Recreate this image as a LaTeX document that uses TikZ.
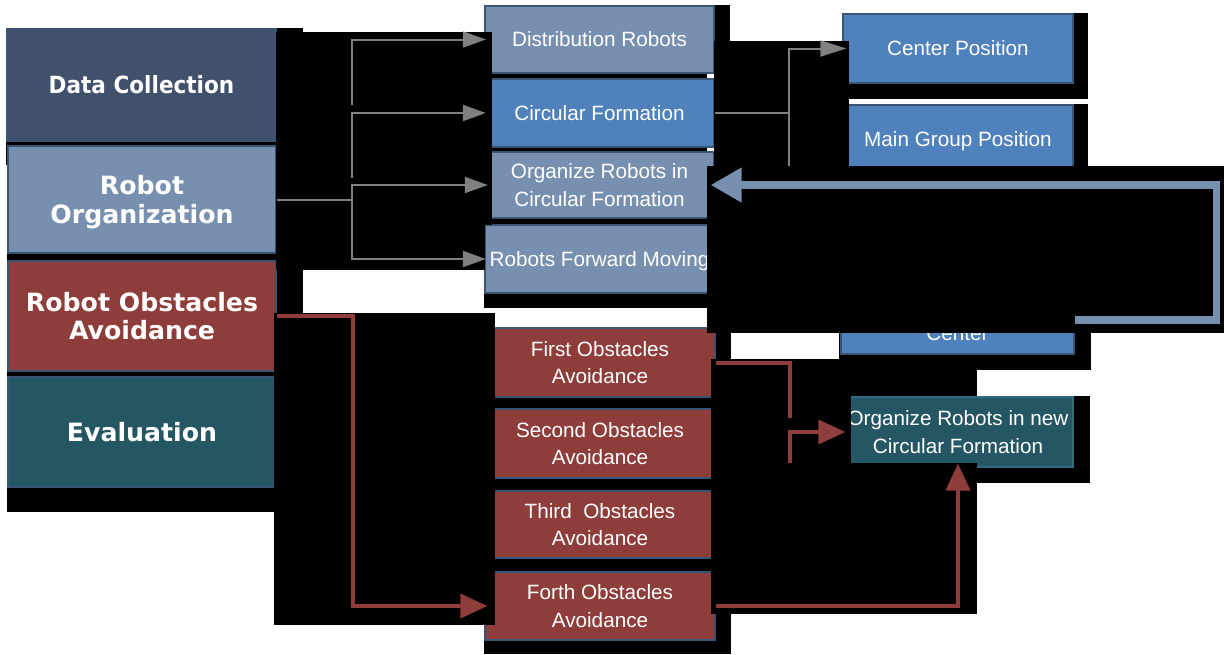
\documentclass[tikz,border=0pt]{standalone}
\usepackage{fontspec}
\usepackage{graphicx}
\newfontfamily\arialf{Liberation Sans}
\newfontfamily\verdf{DejaVu Sans}
\usetikzlibrary{arrows.meta}
\definecolor{cdark}{HTML}{41506B}
\definecolor{clight}{HTML}{7790B0}
\definecolor{cred}{HTML}{8F3D3A}
\definecolor{cteal}{HTML}{255663}
\definecolor{ctealb}{HTML}{2F6E7E}
\definecolor{cblue}{HTML}{4F81BD}
\definecolor{cbord}{HTML}{3A5475}
\definecolor{cgrey}{HTML}{808080}
\definecolor{credline}{HTML}{8F3D3A}
\begin{document}
\begin{tikzpicture}[x=1pt,y=-1pt,
  blk/.style={fill=black},
  bx/.style={rectangle, draw=cbord, line width=1.3pt, inner sep=0pt, text=white, align=center,
    font=\arialf\fontsize{20.7}{27.5}\selectfont},
  lbx/.style={bx, font=\verdf\bfseries\fontsize{25.2}{28.5}\selectfont},
  nodepth/.style={text depth=0pt},
  gline/.style={draw=cgrey, line width=2pt},
  garrow/.style={gline, -{Triangle[length=23pt,width=16pt]}},
  garrowb/.style={gline, -{Triangle[length=26pt,width=16pt]}},
  rline/.style={draw=credline, line width=4pt},
  rarrow/.style={rline, -{Triangle[length=27pt,width=24pt]}},
  barrow/.style={draw=clight, line width=7.5pt, -{Triangle[length=31pt,width=33pt]}}
]
\useasboundingbox (0,0) rectangle (1224,654);
\fill[white] (0,0) rectangle (1224,654);

% black areas behind the boxes
\fill[blk] (6,28) rectangle (303,165);
\fill[blk] (7,165) rectangle (276,512);
\fill[blk] (276,165) rectangle (303,313);
\fill[blk] (484,5) rectangle (730,41);
\fill[blk] (484,41) rectangle (707,308);
\fill[blk] (843,13) rectangle (1088,99);
\fill[blk] (848,104) rectangle (1088,166);
\fill[blk] (839,330) rectangle (1091,370);
\fill[blk] (843,396) rectangle (1090,483);
\fill[blk] (484,327) rectangle (731,654);

% left column
\node[lbx, fill=cdark, minimum width=269pt, minimum height=112pt] (dc) at (141.5,85)
  {\fontsize{23.7}{28.5}\selectfont\scalebox{0.91}[1]{Data Collection}};
\node[lbx, nodepth, fill=clight, minimum width=268pt, minimum height=107pt] (ro) at (142,199.5) {Robot\\Organization};
\node[lbx, fill=cred, minimum width=268pt, minimum height=110pt] (roa) at (142,316) {Robot Obstacles\\Avoidance};
\node[lbx, fill=cteal, minimum width=268pt, minimum height=110pt] (ev) at (142,432) {Evaluation};

% middle column
\node[bx, fill=clight, minimum width=229pt, minimum height=67pt] (dist) at (599.5,39.5) {Distribution Robots};
\node[bx, fill=cblue, minimum width=229pt, minimum height=68pt] (circ) at (599.5,113) {Circular Formation};
\node[bx, fill=clight, minimum width=229pt, minimum height=66pt] (org) at (599.5,185) {Organize Robots in\\Circular Formation};
\node[bx, nodepth, fill=clight, minimum width=229pt, minimum height=68pt] (fwd) at (599.5,259) {Robots Forward Moving};
\node[bx, fill=cred, minimum width=230pt, minimum height=69pt] (first) at (600,362.5) {First Obstacles\\Avoidance};
\node[bx, fill=cred, minimum width=230pt, minimum height=69pt] (second) at (600,443.5) {Second Obstacles\\Avoidance};
\node[bx, fill=cred, minimum width=230pt, minimum height=67pt] (third) at (600,524.5) {Third\ \ Obstacles\\Avoidance};
\node[bx, fill=cred, minimum width=230pt, minimum height=68pt] (forth) at (600,606) {Forth Obstacles\\Avoidance};

% right column
\node[bx, fill=cblue, minimum width=230pt, minimum height=69pt] (cpos) at (958,48.5) {Center Position};
\node[bx, nodepth, fill=cblue, minimum width=230pt, minimum height=68pt] (mgp) at (958,139) {Main Group Position};
\node[bx, fill=cblue, minimum width=233pt, minimum height=68pt] (cbox) at (957.5,320) {};
\node[text=white, inner sep=0pt, font=\arialf\fontsize{20.7}{27.5}\selectfont] (ctext) at (957.5,333) {Center};

% black areas over the boxes
\fill[blk] (276,32) rectangle (492,225);
\fill[blk] (276,225) rectangle (485,270);
\fill[blk] (714,41) rectangle (849,166);
\fill[blk] (274,313) rectangle (495,625);
\fill[blk] (711,359) rectangle (977,614);
\fill[blk] (707,166) rectangle (1224,333);

% teal target box
\node[bx, draw=ctealb, fill=cteal, minimum width=230pt, minimum height=70pt] (teal) at (958,432)
  {Organize Robots in new\\Circular Formation};
\fill[blk] (842,396) rectangle (851,468);
\fill[blk] (842,463) rectangle (977,469);

% grey connectors
\coordinate (g1) at (352,105);
\coordinate (g2) at (352,178);
\coordinate (gj) at (352,199.5);
\coordinate (cj) at (789,113);
\coordinate (cv) at (789,166);
\draw[garrow] (g1) |- ([xshift=1.5pt]dist.west);
\draw[garrow] (g2) |- ([xshift=1.5pt]circ.west);
\draw[gline] (ro.east) -- (gj);
\draw[garrow] (gj) |- ([xshift=3.5pt]org.west);
\draw[garrow] (gj) |- ([xshift=1.5pt]fwd.west);
\draw[gline] (circ.east) -- (cj) -- (cv);
\draw[garrowb] (cj) |- ([xshift=4pt]cpos.west);

% red connectors
\coordinate (r1) at (353,316);
\coordinate (r2) at (790,418);
\coordinate (r3) at (790,463);
\draw[rarrow] (roa.east) -- (r1) |- ([xshift=3pt]forth.west);
\draw[rline] (first.east) -| (r2);
\draw[rarrow] (r3) |- ([xshift=3pt]teal.west);
\draw[rarrow] (forth.east) -| ([yshift=4pt]teal.south);

% blue feedback arrow
\coordinate (bc) at (1216.5,185);
\draw[barrow] (cbox.east) -| (bc) -- ([xshift=-4pt]org.east);
\end{tikzpicture}
\end{document}
